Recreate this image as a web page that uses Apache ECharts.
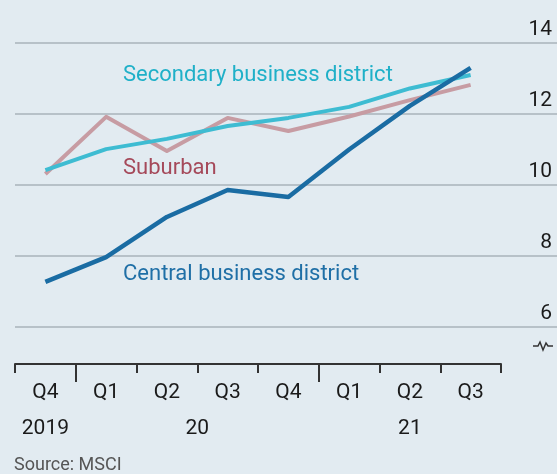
<!DOCTYPE html>
<html>
<head>
<meta charset="utf-8">
<script src="https://cdn.jsdelivr.net/npm/echarts@6/dist/echarts.min.js"></script>
<style>
  html, body { margin: 0; padding: 0; background: #e2ebf1; }
  #main { width: 557px; height: 474px; }
</style>
</head>
<body>
<div id="main"></div>
<script>
// quarters from Q4 2019 to Q3 2021
const quarters = ['Q4', 'Q1', 'Q2', 'Q3', 'Q4', 'Q1', 'Q2', 'Q3'];
// year labels sit on a half-quarter axis (17 slots) so they centre on each year's span
const yearSlots = ['', '2019', '', '', '', '', '20', '', '', '', '', '', '', '21', '', '', ''];
const yTicks = [6, 8, 10, 12, 14];

const central = [7.27, 7.97, 9.10, 9.86, 9.66, 11.0, 12.23, 13.30];
const secondary = [10.42, 11.01, 11.30, 11.66, 11.89, 12.20, 12.72, 13.10];
const suburban = [10.31, 11.92, 10.96, 11.89, 11.52, 11.93, 12.39, 12.82];

const font = 'Roboto, "Open Sans", sans-serif';

const chart = echarts.init(document.getElementById('main'));

const option = {
  backgroundColor: '#e2ebf1',
  animation: false,
  grid: [
    { left: 15, right: 0, top: 43, bottom: 147, outerBoundsMode: 'none', containLabel: false },
    { left: 15, right: 56, top: 43, bottom: 147, outerBoundsMode: 'none', containLabel: false }
  ],
  xAxis: [
    { gridIndex: 0, type: 'value', min: 0, max: 1, show: false },
    {
      gridIndex: 1,
      type: 'category',
      position: 'bottom',
      data: quarters,
      boundaryGap: true,
      offset: 37,
      axisLine: { show: true, lineStyle: { color: '#333', width: 2 } },
      axisTick: { show: true, length: 9, lineStyle: { color: '#333', width: 2 } },
      axisLabel: { interval: 0, margin: 18, fontSize: 21, color: '#1a1a1a', fontFamily: font }
    },
    {
      gridIndex: 1,
      type: 'category',
      position: 'bottom',
      data: yearSlots,
      boundaryGap: false,
      offset: 37,
      axisLine: { show: false },
      axisTick: {
        show: true,
        length: 18,
        interval: (idx) => idx === 2 || idx === 10,
        lineStyle: { color: '#333', width: 2 }
      },
      axisLabel: { interval: 0, margin: 54, fontSize: 21, color: '#1a1a1a', fontFamily: font }
    }
  ],
  yAxis: [
    {
      gridIndex: 0,
      type: 'value',
      min: yTicks[0],
      max: yTicks[yTicks.length - 1],
      interval: 2,
      position: 'right',
      axisLine: { show: false },
      axisTick: { show: false },
      splitLine: { lineStyle: { color: '#b7c1c8', width: 2 } },
      axisLabel: {
        inside: true,
        verticalAlign: 'bottom',
        margin: 5,
        padding: [0, 0, 3, 0],
        fontSize: 21,
        color: '#1a1a1a',
        fontFamily: font
      }
    },
    { gridIndex: 1, type: 'value', min: 6, max: 14, show: false }
  ],
  series: [
    {
      name: 'Suburban',
      type: 'line',
      xAxisIndex: 1,
      yAxisIndex: 1,
      data: suburban,
      symbol: 'none',
      lineStyle: { color: '#c79ca3', width: 4, join: 'round' }
    },
    {
      name: 'Secondary business district',
      type: 'line',
      xAxisIndex: 1,
      yAxisIndex: 1,
      data: secondary,
      symbol: 'none',
      lineStyle: { color: '#3ebcd2', width: 4, join: 'round' }
    },
    {
      name: 'Central business district',
      type: 'line',
      xAxisIndex: 1,
      yAxisIndex: 1,
      data: central,
      symbol: 'none',
      lineStyle: { color: '#1a6ca3', width: 4.5, join: 'round' }
    }
  ],
  graphic: [
    {
      type: 'text',
      style: { x: 123, y: 75, text: 'Secondary business district', fill: '#1fb0c8',
        font: '22px ' + font, verticalAlign: 'middle' }
    },
    {
      type: 'text',
      style: { x: 123, y: 168, text: 'Suburban', fill: '#a5495a',
        font: '22px ' + font, verticalAlign: 'middle' }
    },
    {
      type: 'text',
      style: { x: 123, y: 274, text: 'Central business district', fill: '#1f6fa6',
        font: '22px ' + font, verticalAlign: 'middle' }
    },
    {
      type: 'text',
      style: { x: 14, y: 465, text: 'Source: MSCI', fill: '#555',
        font: '18px ' + font, verticalAlign: 'middle' }
    },
    {
      // broken-axis mark
      type: 'polyline',
      shape: { points: [[533, 346], [538, 346], [540, 342], [543, 350], [546, 343], [548, 346], [553, 346]] },
      style: { stroke: '#333', lineWidth: 1.5, fill: null }
    }
  ]
};

chart.setOption(option);
</script>
</body>
</html>
